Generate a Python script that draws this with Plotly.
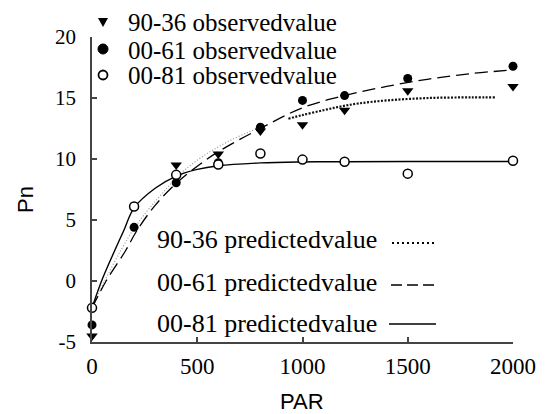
import plotly.graph_objects as go

# ---------------- data ----------------
par = [0, 200, 400, 600, 800, 1000, 1200, 1500, 2000]
obs_9036_x = [0, 400, 600, 800, 1000, 1200, 1500, 2000]
obs_9036 = [-4.5, 9.5, 10.4, 12.3, 12.8, 14.0, 15.6, 15.95]
obs_0061 = [-3.6, 4.4, 8.05, 9.7, 12.6, 14.8, 15.2, 16.6, 17.6]
obs_0081 = [-2.2, 6.1, 8.7, 9.55, 10.45, 9.95, 9.78, 8.8, 9.85]

pred_0081_x = [0, 50, 108, 150, 200, 300, 400, 500, 600, 800, 1000, 1200, 1500, 2000]
pred_0081 = [-2.2, 0.2, 2.5, 4.1, 6.0, 7.6, 8.6, 9.15, 9.45, 9.68, 9.76, 9.78, 9.8, 9.8]

pred_0061_x = [0, 67, 160, 212, 300, 400, 500, 600, 800, 1000, 1200, 1400, 1600, 1800, 2000]
pred_0061 = [-2.2, 0, 2.5, 4.1, 6.2, 8.0, 9.4, 10.6, 12.5, 14.2, 15.2, 15.95, 16.55, 17.0, 17.3]

pred_9036_low_x = [0, 60, 140, 200, 270, 340, 420, 500, 580, 660, 750, 820]
pred_9036_low = [-2.2, 0, 2.6, 4.3, 5.9, 7.3, 8.8, 9.9, 10.8, 11.55, 12.25, 12.7]
pred_9036_high_x = [933, 1000, 1100, 1180, 1265, 1400, 1600, 1800, 1920]
pred_9036_high = [13.3, 13.6, 14.0, 14.3, 14.55, 14.8, 15.0, 15.05, 15.05]

x_ticks = [0, 500, 1000, 1500, 2000]
x_tick_text = ["0", "500", "1000", "1500", "2000"]
y_ticks = [-5, 0, 5, 10, 15, 20]
y_tick_text = ["-5", "0", "5", "10", "15", "20"]

obs_labels = ["90-36 observedvalue", "00-61 observedvalue", "00-81 observedvalue"]
pred_labels = ["90-36 predictedvalue", "00-61 predictedvalue", "00-81 predictedvalue"]

SERIF = "Liberation Serif, Times New Roman, serif"
SANS = "Liberation Sans, Arial, sans-serif"
AX = "#444444"

fig = go.Figure()

# predicted curves
fig.add_trace(go.Scatter(x=pred_9036_low_x, y=pred_9036_low, mode="lines",
                         line=dict(color="#9a9a9a", width=1.2, dash="1px,2px", shape="spline"),
                         showlegend=False, cliponaxis=False))
fig.add_trace(go.Scatter(x=pred_9036_high_x, y=pred_9036_high, mode="lines",
                         line=dict(color="#111111", width=2.2, dash="2px,1.5px", shape="spline"),
                         showlegend=False, cliponaxis=False))
fig.add_trace(go.Scatter(x=pred_0061_x, y=pred_0061, mode="lines",
                         line=dict(color="black", width=1.3, dash="13px,6px", shape="spline"),
                         showlegend=False, cliponaxis=False))
fig.add_trace(go.Scatter(x=pred_0081_x, y=pred_0081, mode="lines",
                         line=dict(color="black", width=1.4, shape="spline"),
                         showlegend=False, cliponaxis=False))

# observed points
fig.add_trace(go.Scatter(x=obs_9036_x, y=obs_9036, mode="markers",
                         marker=dict(symbol="triangle-down", size=10, color="black"),
                         showlegend=False, cliponaxis=False))
fig.add_trace(go.Scatter(x=par, y=obs_0061, mode="markers",
                         marker=dict(symbol="circle", size=9, color="black"),
                         showlegend=False, cliponaxis=False))
fig.add_trace(go.Scatter(x=par, y=obs_0081, mode="markers",
                         marker=dict(symbol="circle", size=9, color="white",
                                     line=dict(color="black", width=1.5)),
                         showlegend=False, cliponaxis=False))

# geometry helpers (plot area in pixels)
L, R, T, B = 92, 36, 37, 72
W, H = 549, 414
PW, PH = W - L - R, H - T - B


def px(X):
    return (X - L) / PW


def py(Y):
    return (H - B - Y) / PH


shapes = []
annotations = []

# top legend (observed values)
rows_top = [22, 49, 75]
mx = px(103)
shapes.append(dict(type="path", xref="paper", yref="paper", xsizemode="pixel", ysizemode="pixel",
                   xanchor=mx, yanchor=py(rows_top[0]), path="M-5,4 L5,4 L0,-5 Z",
                   fillcolor="black", line=dict(color="black", width=0)))
shapes.append(dict(type="circle", xref="paper", yref="paper", xsizemode="pixel", ysizemode="pixel",
                   xanchor=mx, yanchor=py(rows_top[1]), x0=-5, x1=5, y0=-5, y1=5,
                   fillcolor="black", line=dict(color="black", width=1)))
shapes.append(dict(type="circle", xref="paper", yref="paper", xsizemode="pixel", ysizemode="pixel",
                   xanchor=mx, yanchor=py(rows_top[2]), x0=-4.5, x1=4.5, y0=-4.5, y1=4.5,
                   fillcolor="white", line=dict(color="black", width=1.8)))
for lab, r in zip(obs_labels, rows_top):
    annotations.append(dict(text=lab, xref="paper", yref="paper", x=px(126), y=py(r + 1),
                            xanchor="left", yanchor="middle", showarrow=False,
                            font=dict(family=SERIF, size=25, color="black")))

# bottom legend (predicted values)
rows_bot = [239, 282, 323]
for lab, r in zip(pred_labels, rows_bot):
    annotations.append(dict(text=lab, xref="paper", yref="paper", x=px(155), y=py(r),
                            xanchor="left", yanchor="middle", showarrow=False,
                            font=dict(family=SERIF, size=26, color="black")))
shapes.append(dict(type="line", xref="paper", yref="paper", x0=px(392), x1=px(434),
                   y0=py(rows_bot[0] + 4), y1=py(rows_bot[0] + 4),
                   line=dict(color="black", width=2, dash="2px,3px")))
shapes.append(dict(type="line", xref="paper", yref="paper", x0=px(391), x1=px(435),
                   y0=py(rows_bot[1] + 3), y1=py(rows_bot[1] + 3),
                   line=dict(color="black", width=1.5, dash="11px,5px")))
shapes.append(dict(type="line", xref="paper", yref="paper", x0=px(389), x1=px(436),
                   y0=py(rows_bot[2] + 1), y1=py(rows_bot[2] + 1),
                   line=dict(color="black", width=1.6)))

# axis titles
annotations.append(dict(text="Pn", xref="paper", yref="paper", x=px(25), y=py(200),
                        xanchor="center", yanchor="middle", textangle=-90, showarrow=False,
                        font=dict(family=SANS, size=22, color="black")))
annotations.append(dict(text="PAR", xref="paper", yref="paper", x=px(302), y=py(401),
                        xanchor="center", yanchor="middle", showarrow=False,
                        font=dict(family=SANS, size=22, color="black")))

fig.update_layout(
    width=W, height=H,
    margin=dict(l=L, r=R, t=T, b=B, pad=0, autoexpand=False),
    paper_bgcolor="white", plot_bgcolor="white",
    font=dict(family=SERIF, color="black"),
    showlegend=False,
    shapes=shapes, annotations=annotations,
    xaxis=dict(range=[0, 2000], tickvals=x_ticks, ticktext=x_tick_text,
               showline=True, linecolor=AX, linewidth=1.5, ticks="inside", ticklen=5,
               tickcolor=AX, tickwidth=1.5, showgrid=False, zeroline=False,
               ticklabelstandoff=3, tickfont=dict(family=SERIF, size=23, color="black")),
    yaxis=dict(range=[-5, 20], tickvals=y_ticks, ticktext=y_tick_text,
               showline=True, linecolor=AX, linewidth=1.5, ticks="inside", ticklen=5,
               tickcolor=AX, tickwidth=1.5, showgrid=False, zeroline=False,
               ticklabelstandoff=10, tickfont=dict(family=SERIF, size=21, color="black")),
)

fig.write_html("out.html", config={"displayModeBar": False},
               post_script="document.body.style.margin='0';")
